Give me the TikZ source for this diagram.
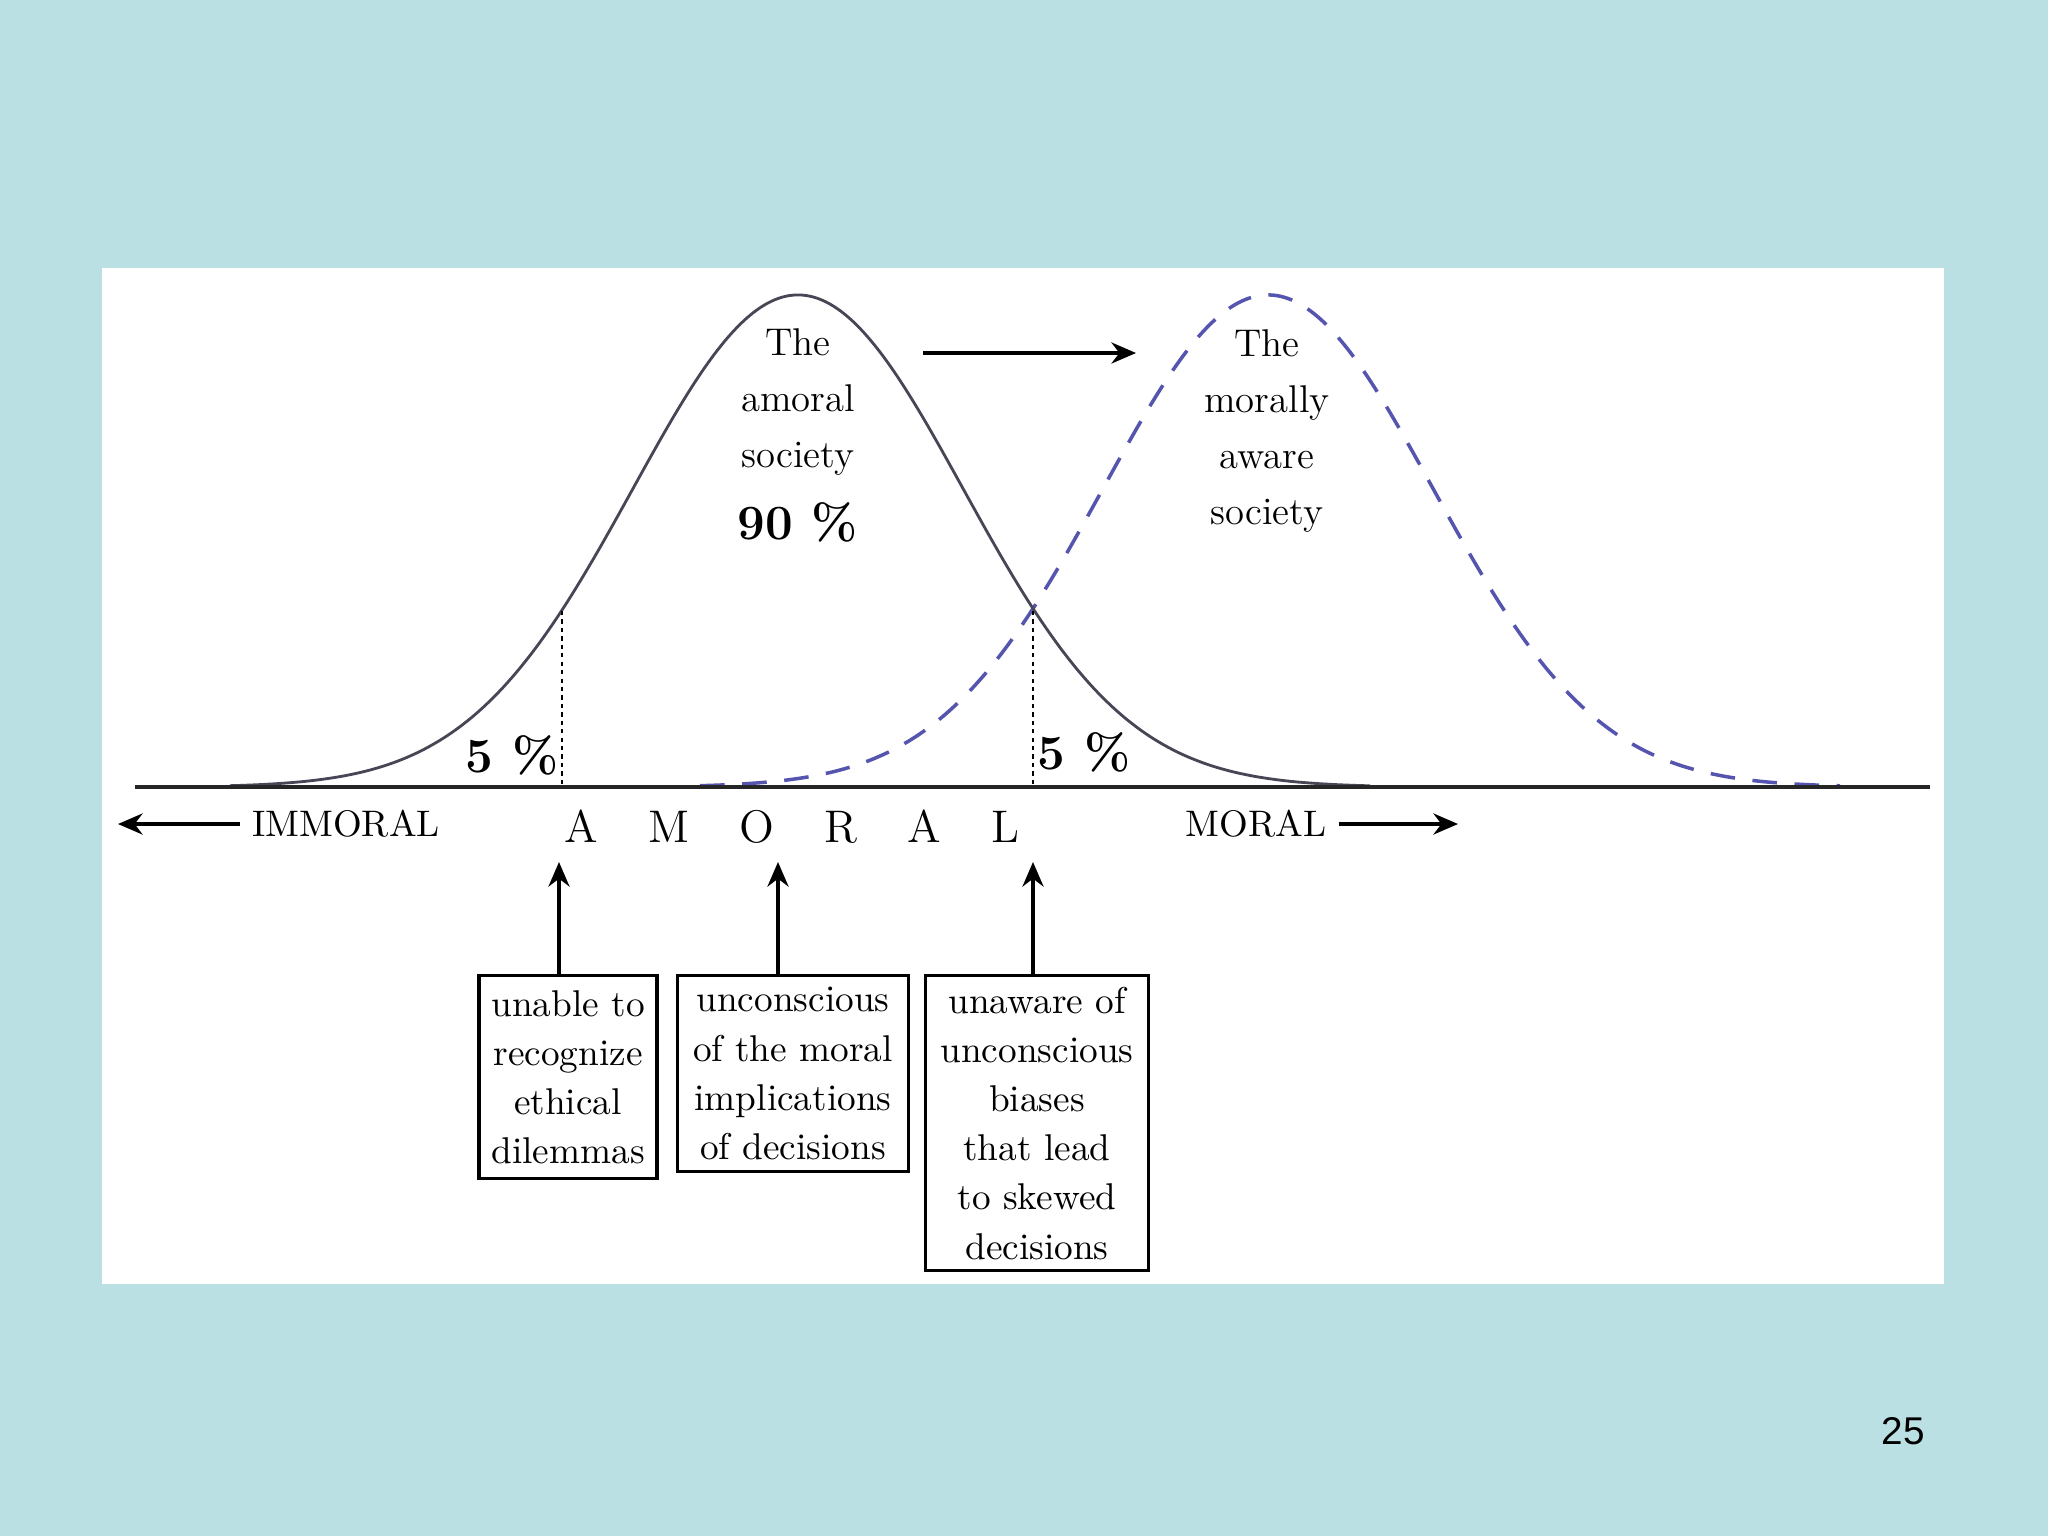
\documentclass[tikz,border=0pt]{standalone}
\usepackage{fontspec}
\usepackage{tikz}
\usetikzlibrary{positioning,calc,arrows.meta}
\newfontfamily\slidefont{Liberation Sans}
\definecolor{SlideTeal}{RGB}{186,224,227}
\definecolor{CurveGray}{RGB}{70,70,85}
\definecolor{DashBlue}{RGB}{85,85,175}
\tikzset{
  curve/.style={draw=CurveGray,line width=0.8pt},
  dashcurve/.style={draw=DashBlue,line width=1pt,dash pattern=on 7pt off 5pt},
  axisline/.style={draw=black!85,line width=1.1pt},
  guide/.style={draw=black,line width=0.6pt,dash pattern=on 1.2pt off 1.2pt},
  arr/.style={draw=black,line width=1pt,-{Stealth[length=7pt,width=6pt]}},
  note/.style={draw=black,line width=0.9pt,fill=white,align=center,inner sep=2pt,
    font=\fontsize{10.6}{14}\selectfont,anchor=north},
  lbl/.style={font=\fontsize{11}{16}\selectfont,align=center},
  pct/.style={font=\fontsize{14}{16}\selectfont\bfseries},
  axislbl/.style={font=\fontsize{10.5}{12}\selectfont},
}

\begin{document}
\begin{tikzpicture}[x=0.01cm,y=-0.01cm]
\fill[SlideTeal] (0,0) rectangle (2048,1536);
\fill[white] (102,268) rectangle (1944,1284);
\useasboundingbox (0,0) rectangle (2048,1536);

% the two bell curves and the axis
\draw[dashcurve] plot[domain=700:1840,samples=160,smooth] (\x,{787-492*exp(-((\x-1268)/165)^2/2)});
\draw[curve] plot[domain=230:1370,samples=160,smooth] (\x,{787-492*exp(-((\x-798)/165)^2/2)});
\draw[axisline] (135,787) -- (1930,787);

% 5 % cut-offs
\coordinate (g1) at (562,611);
\coordinate (g2) at (1033,611);
\draw[guide] (g1) -- (g1 |- 0,787);
\draw[guide] (g2) -- (g2 |- 0,787);
\node[pct] (p5l) at (512,755) {5 \%};
\node[pct] (p5r) at (1084,752) {5 \%};

% curve labels
\node[lbl] (amsoc) at (798,402) {The\\amoral\\society};
\node[pct] (p90) at (798,522) {90 \%};
\node[lbl] (mosoc) at (1267,431) {The\\morally\\aware\\society};
\coordinate (shiftA) at (923,353);
\coordinate (shiftB) at (1136,353);
\draw[arr] (shiftA) -- (shiftB);

% axis labels
\node[axislbl] (imm) at (346,824) {IMMORAL};
\node[axislbl,font=\fontsize{13}{14}\selectfont] (amo) at (792,827)
  {A\hspace{1.1em}M\hspace{1.1em}O\hspace{1.1em}R\hspace{1.1em}A\hspace{1.1em}L};
\node[axislbl] (mor) at (1256,824) {MORAL};
\coordinate (immEnd) at (118,824);
\coordinate (morEnd) at (1458,824);
\draw[arr] (imm.west) -- (immEnd);
\draw[arr] (mor.east) -- (morEnd);

% explanation boxes
\node[note,minimum width=1.78cm,minimum height=2.03cm] (b1) at (568,974)
  {unable to\\recognize\\ethical\\dilemmas};
\node[note,minimum width=2.31cm,minimum height=1.96cm] (b2) at (793,974)
  {unconscious\\of the moral\\implications\\of decisions};
\node[note,minimum width=2.23cm,minimum height=2.95cm] (b3) at (1037,974)
  {unaware of\\unconscious\\biases\\that lead\\to skewed\\decisions};
\coordinate (t1) at (559,862);
\coordinate (t2) at (778,862);
\coordinate (t3) at (1033,862);
\draw[arr] (b1.north -| t1) -- (t1);
\draw[arr] (b2.north -| t2) -- (t2);
\draw[arr] (b3.north -| t3) -- (t3);

\node[font=\slidefont\fontsize{11}{13}\selectfont] (pnum) at (1903,1431) {25};
\end{tikzpicture}
\end{document}
